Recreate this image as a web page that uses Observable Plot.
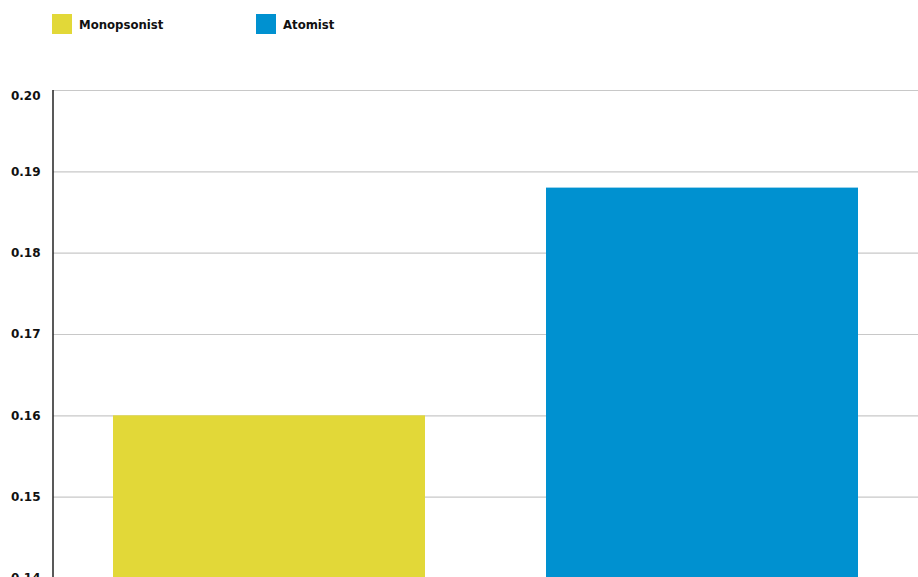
<!DOCTYPE html>
<html>
<head>
<meta charset="utf-8">
<script src="https://cdn.jsdelivr.net/npm/d3@7"></script>
<script src="https://cdn.jsdelivr.net/npm/@observablehq/plot@0.6"></script>
<style>
  html, body { margin: 0; padding: 0; background: #fff; overflow: hidden; }
  #legend { height: 48px; position: relative; font-family: "DejaVu Sans Condensed", "DejaVu Sans", sans-serif; font-stretch: condensed; font-weight: bold; font-size: 13px; color: #111; }
  .item { position: absolute; top: 14px; display: flex; align-items: center; height: 20px; }
  .sw { width: 20px; height: 20px; margin-right: 7px; }
</style>
</head>
<body>
<div id="legend"></div>
<div id="chart"></div>
<script>
const categories = ["Monopsonist", "Atomist"];
const values = [0.160, 0.188];
const colors = ["#e2d838", "#0091d0"];
const yTicks = [0.14, 0.15, 0.16, 0.17, 0.18, 0.19];
const topTick = [0.20];

const data = categories.map((c, i) => ({category: c, value: values[i]}));

const legend = document.getElementById("legend");
const legendX = [52, 256];
categories.forEach((c, i) => {
  const it = document.createElement("div");
  it.className = "item";
  it.style.left = legendX[i] + "px";
  it.innerHTML = `<div class="sw" style="background:${colors[i]}"></div><span>${c}</span>`;
  legend.appendChild(it);
});

const chart = Plot.plot({
  width: 918,
  height: 570,
  marginTop: 42,
  marginBottom: 40,
  marginLeft: 53,
  marginRight: 0,
  style: {fontFamily: "DejaVu Sans", fontWeight: "bold", fontSize: "12px", color: "#111"},
  x: {domain: categories, paddingInner: 0.279, paddingOuter: 0.138, axis: null},
  y: {domain: [0.14, 0.20], label: null},
  color: {domain: categories, range: colors},
  marks: [
    Plot.gridY([...yTicks, ...topTick], {stroke: "#c8c8c8", strokeOpacity: 1, strokeWidth: 1.2}),
    Plot.barY(data, {x: "category", y1: 0.14, y2: "value", fill: "category"}),
    Plot.axisY(yTicks, {tickSize: 0, tickPadding: 13, tickFormat: d3.format(".2f"), fontWeight: "bold", fontSize: 12, label: null}),
    Plot.axisY(topTick, {tickSize: 0, tickPadding: 13, dy: 6, tickFormat: d3.format(".2f"), fontWeight: "bold", fontSize: 12, label: null})
  ]
});
document.getElementById("chart").appendChild(chart);

// vertical axis line at left edge
const svg = d3.select(chart);
svg.append("line").attr("x1", 53).attr("x2", 53).attr("y1", 42).attr("y2", 530).attr("stroke", "#222").attr("stroke-width", 1.5);
</script>
</body>
</html>
